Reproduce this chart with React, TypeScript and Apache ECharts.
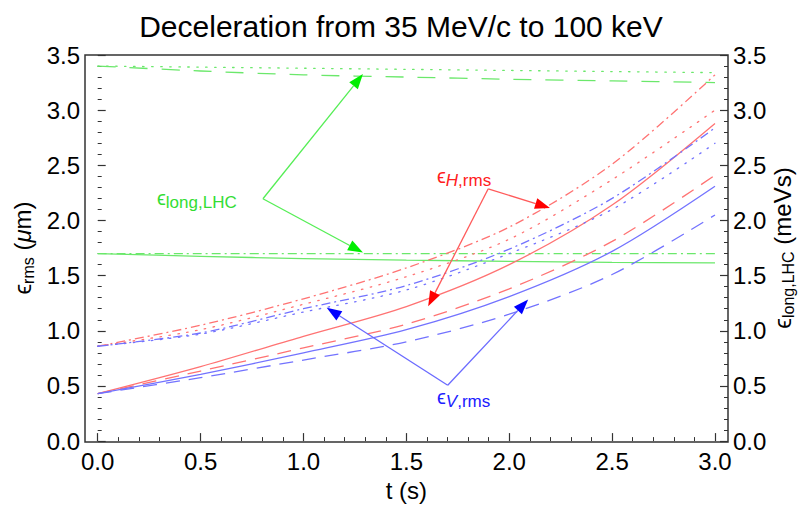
import React, { useEffect, useRef } from "react";
import * as echarts from "echarts";

const FONT = '"Liberation Sans", Arial, Helvetica, sans-serif';

// time axis samples (s)
const TIME = [0, 0.5, 1.0, 1.5, 2.0, 2.5, 3.0];

// horizontal rms emittance (μm)
const H_DASHDOT = [0.86, 1.05, 1.29, 1.57, 1.94, 2.51, 3.32];
const H_DOTTED = [0.86, 1.01, 1.24, 1.49, 1.83, 2.37, 3.0];
const H_SOLID = [0.43, 0.675, 0.95, 1.22, 1.6, 2.14, 2.88];
const H_DASHED = [0.43, 0.635, 0.845, 1.06, 1.38, 1.81, 2.41];

// vertical rms emittance (μm)
const V_DASHDOT = [0.86, 0.98, 1.2, 1.41, 1.74, 2.2, 2.84];
const V_DOTTED = [0.86, 0.97, 1.17, 1.37, 1.7, 2.1, 2.7];
const V_SOLID = [0.43, 0.605, 0.8, 1.01, 1.31, 1.72, 2.31];
const V_DASHED = [0.43, 0.575, 0.735, 0.9, 1.15, 1.51, 2.05];

// longitudinal emittance (meVs)
const L_DOTTED = [3.4, 3.39, 3.38, 3.37, 3.36, 3.35, 3.34];
const L_DASHED = [3.4, 3.355, 3.32, 3.3, 3.28, 3.265, 3.25];
const L_DASHDOT = [1.7, 1.7, 1.7, 1.7, 1.7, 1.7, 1.7];
const L_SOLID = [1.7, 1.675, 1.655, 1.64, 1.63, 1.62, 1.615];

// annotation arrows: [from (t, value), to (t, value)]
const GREEN_ARROWS = [
  [[0.803, 2.197], [1.289, 3.327]],
  [[0.803, 2.197], [1.289, 1.709]],
];
const RED_ARROWS = [
  [[1.898, 2.287], [2.198, 2.113]],
  [[1.898, 2.287], [1.606, 1.223]],
];
const BLUE_ARROWS = [
  [[1.701, 0.506], [2.092, 1.284]],
  [[1.701, 0.506], [1.113, 1.209]],
];

const RED = "#ff7373";
const BLUE = "#7373ff";
const GREEN = "#6be86b";

const DASHDOT = [9, 4, 2, 4];
const DOTTED = [1.5, 7.5];
const DASHED = [14, 9];

let measureCtx: CanvasRenderingContext2D | null = null;
function textWidth(text: string, size: number, italic?: boolean) {
  if (!measureCtx) measureCtx = document.createElement("canvas").getContext("2d");
  measureCtx!.font = `${italic ? "italic " : ""}${size}px ${FONT}`;
  return measureCtx!.measureText(text).width;
}

type Part = { t: string; size: number; italic?: boolean; dy?: number };

function composite(parts: Part[], color: string, centered: boolean) {
  const widths = parts.map((p) => textWidth(p.t, p.size, p.italic));
  const total = widths.reduce((a, b) => a + b, 0);
  let x = centered ? -total / 2 : 0;
  const children: any[] = [];
  parts.forEach((p, i) => {
    children.push({
      type: "text",
      x,
      y: p.dy || 0,
      style: {
        text: p.t,
        fontSize: p.size,
        fontStyle: p.italic ? "italic" : "normal",
        fontFamily: FONT,
        fill: color,
        align: "left",
        verticalAlign: "middle",
      },
    });
    x += widths[i];
  });
  return children;
}

function line(data: number[], color: string, dash: any, yAxisIndex = 0) {
  return {
    type: "line",
    yAxisIndex,
    data: TIME.map((t, i) => [t, data[i]]),
    symbol: "none",
    smooth: 0.3,
    lineStyle: { color, width: 1.3, type: dash, cap: dash === DOTTED ? "round" : "butt" },
    z: 3,
  };
}

export default function App() {
  const ref = useRef<HTMLDivElement>(null);

  useEffect(() => {
    document.body.style.margin = "0";
    const chart = echarts.init(ref.current!, null, { renderer: "svg" });

    const axisLabel = { fontSize: 24, color: "#000", fontFamily: FONT };
    const tick = { inside: true, length: 8, lineStyle: { color: "#333", width: 1.2 } };
    const minor = { show: true, splitNumber: 5, length: 4, lineStyle: { color: "#333", width: 1 } };

    chart.setOption({
      animation: false,
      title: {
        text: "Deceleration from 35 MeV/c to 100 keV",
        left: "center",
        top: 6,
        textStyle: { fontSize: 30, fontWeight: "normal", color: "#000", fontFamily: FONT },
      },
      grid: { left: 97.7, right: 87, top: 55, bottom: 65 },
      xAxis: {
        type: "value",
        min: 0,
        max: 3,
        interval: 0.5,
        name: "t (s)",
        nameLocation: "middle",
        nameGap: 35,
        nameTextStyle: { fontSize: 24, color: "#000", fontFamily: FONT },
        axisLine: { show: false },
        axisTick: tick,
        minorTick: minor,
        splitLine: { show: false },
        axisLabel: { ...axisLabel, margin: 8, formatter: (v: number) => v.toFixed(1) },
      },
      yAxis: [
        {
          type: "value",
          min: 0,
          max: 3.5,
          interval: 0.5,
          position: "left",
          offset: 12.7,
          axisLine: { show: false },
          axisTick: tick,
          minorTick: minor,
          splitLine: { show: false },
          axisLabel: { ...axisLabel, margin: 5, formatter: (v: number) => v.toFixed(1) },
        },
        {
          type: "value",
          min: 0,
          max: 3.5,
          interval: 0.5,
          position: "right",
          offset: 13,
          axisLine: { show: false },
          axisTick: tick,
          minorTick: minor,
          splitLine: { show: false },
          axisLabel: { ...axisLabel, margin: 5, formatter: (v: number) => v.toFixed(1) },
        },
      ],
      series: [
        line(L_DOTTED, GREEN, DOTTED, 1),
        line(L_DASHED, GREEN, [18, 14], 1),
        line(L_DASHDOT, GREEN, DASHDOT, 1),
        line(L_SOLID, GREEN, "solid", 1),
        line(H_DASHDOT, RED, DASHDOT),
        line(H_DOTTED, RED, DOTTED),
        line(H_SOLID, RED, "solid"),
        line(H_DASHED, RED, DASHED),
        line(V_DASHDOT, BLUE, DASHDOT),
        line(V_DOTTED, BLUE, DOTTED),
        line(V_SOLID, BLUE, "solid"),
        line(V_DASHED, BLUE, DASHED),
      ],
    });

    const toPx = (p: number[]) =>
      chart.convertToPixel({ xAxisIndex: 0, yAxisIndex: 0 }, p) as number[];

    const arrows = (list: number[][][], shaft: string, head: string) =>
      list.flatMap(([from, to]) => {
        const a = toPx(from);
        const b = toPx(to);
        const dx = b[0] - a[0];
        const dy = b[1] - a[1];
        const len = Math.hypot(dx, dy);
        const ux = dx / len;
        const uy = dy / len;
        const hl = 15;
        const hw = 5.5;
        const bx = b[0] - ux * hl;
        const by = b[1] - uy * hl;
        return [
          {
            type: "line",
            shape: { x1: a[0], y1: a[1], x2: bx, y2: by },
            style: { stroke: shaft, lineWidth: 1.3 },
            z: 10,
          },
          {
            type: "polygon",
            shape: {
              points: [
                [b[0], b[1]],
                [bx - uy * hw, by + ux * hw],
                [bx + uy * hw, by - ux * hw],
              ],
            },
            style: { fill: head },
            z: 10,
          },
        ];
      });

    chart.setOption({
      graphic: [
        {
          type: "rect",
          shape: { x: 85, y: 55, width: 643, height: 387 },
          style: { fill: "none", stroke: "#333", lineWidth: 1.5 },
          z: 20,
        },
        ...arrows(GREEN_ARROWS, "#55ee55", "#00ee00"),
        ...arrows(RED_ARROWS, "#ff5a5a", "#ff0000"),
        ...arrows(BLUE_ARROWS, "#6a6aff", "#0000ff"),
        {
          type: "group",
          x: 157,
          y: 198,
          children: composite(
            [
              { t: "ϵ", size: 20 },
              { t: "long,LHC", size: 17, dy: 4 },
            ],
            "#33dd33",
            false
          ),
          z: 12,
        },
        {
          type: "group",
          x: 437,
          y: 176,
          children: composite(
            [
              { t: "ϵ", size: 20 },
              { t: "H", size: 17, italic: true, dy: 4 },
              { t: ",rms", size: 17, dy: 4 },
            ],
            "#ff2020",
            false
          ),
          z: 12,
        },
        {
          type: "group",
          x: 437,
          y: 397,
          children: composite(
            [
              { t: "ϵ", size: 20 },
              { t: "V", size: 17, italic: true, dy: 4 },
              { t: ",rms", size: 17, dy: 4 },
            ],
            "#2020ff",
            false
          ),
          z: 12,
        },
        {
          type: "group",
          x: 22,
          y: 248,
          rotation: Math.PI / 2,
          children: composite(
            [
              { t: "ϵ", size: 24 },
              { t: "rms", size: 16, dy: 6 },
              { t: " (", size: 24 },
              { t: "μ", size: 24, italic: true },
              { t: "m)", size: 24 },
            ],
            "#000",
            true
          ),
        },
        {
          type: "group",
          x: 782,
          y: 248,
          rotation: Math.PI / 2,
          children: composite(
            [
              { t: "ϵ", size: 24 },
              { t: "long,LHC", size: 16, dy: 6 },
              { t: " (meVs)", size: 24 },
            ],
            "#000",
            true
          ),
        },
      ],
    });

    return () => chart.dispose();
  }, []);

  return <div ref={ref} style={{ width: 802, height: 507 }} />;
}
